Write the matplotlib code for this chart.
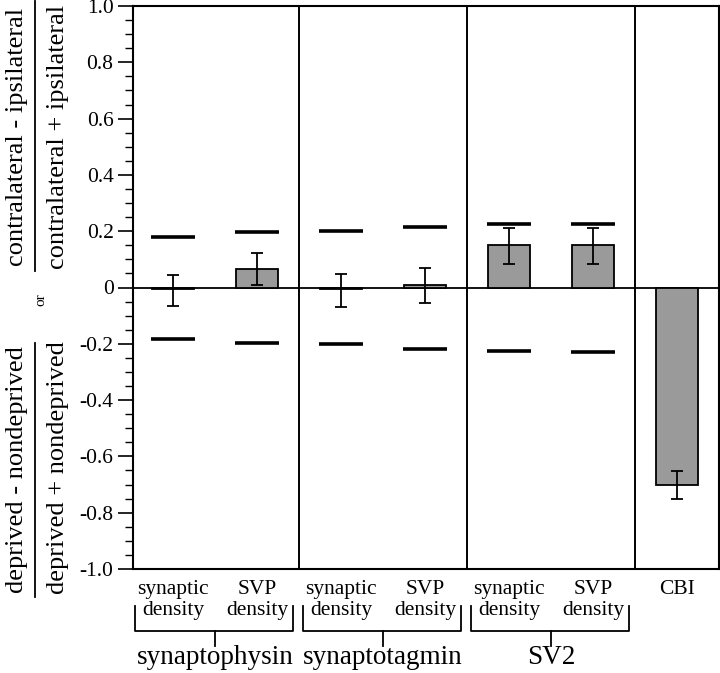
import matplotlib
matplotlib.use("Agg")
import matplotlib.pyplot as plt
from matplotlib.lines import Line2D
from matplotlib.ticker import MultipleLocator
import numpy as np

plt.rcParams['font.family'] = ['Liberation Serif', 'DejaVu Serif']

# ---- data ----
categories = ["synaptic\ndensity", "SVP\ndensity",
              "synaptic\ndensity", "SVP\ndensity",
              "synaptic\ndensity", "SVP\ndensity", "CBI"]
groups = ["synaptophysin", "synaptotagmin", "SV2"]
values = [-0.005, 0.067, -0.005, 0.010, 0.151, 0.151, -0.700]
err_top = [0.043, 0.122, 0.048, 0.071, 0.213, 0.213, -0.651]
err_bot = [-0.064, 0.010, -0.070, -0.054, 0.082, 0.082, -0.752]
upper_bound = [0.181, 0.197, 0.202, 0.216, 0.225, 0.226]
lower_bound = [-0.182, -0.196, -0.202, -0.217, -0.225, -0.228]
yticks = [1.0, 0.8, 0.6, 0.4, 0.2, 0.0, -0.2, -0.4, -0.6, -0.8, -1.0]
yticklabels = ["1.0", "0.8", "0.6", "0.4", "0.2", "0", "-0.2", "-0.4", "-0.6", "-0.8", "-1.0"]

W, H = 720, 673
fig = plt.figure(figsize=(W / 100, H / 100), dpi=100)
ax = fig.add_axes([133 / W, (H - 569) / H, (719 - 133) / W, (569 - 6) / H])

x = np.arange(len(values))
vals = np.array(values)
lo = vals - np.array(err_bot)
hi = np.array(err_top) - vals

ax.bar(x, vals, width=0.49, color='#9a9a9a', edgecolor='black', linewidth=1.3, zorder=2)
ax.errorbar(x, vals, yerr=[lo, hi], fmt='none', ecolor='black', elinewidth=1.3,
            capsize=4, capthick=1.3, zorder=3)
xb = x[:len(upper_bound)]
ax.hlines(upper_bound, xb - 0.26, xb + 0.26, colors='black', linewidth=2.6, zorder=3)
ax.hlines(lower_bound, xb - 0.26, xb + 0.26, colors='black', linewidth=2.6, zorder=3)

ax.axhline(0, color='black', linewidth=1.3, zorder=1)
for sep in [1.5, 3.5, 5.5]:
    ax.axvline(sep, color='black', linewidth=1.4, zorder=1)

ax.set_xlim(-0.476, 6.5)
ax.set_ylim(-1.0, 1.0)
ax.set_yticks(yticks)
ax.set_yticklabels(yticklabels, fontsize=15.5)
ax.yaxis.set_minor_locator(MultipleLocator(0.05))
ax.tick_params(axis='y', which='major', direction='out', length=11, width=1.2, pad=3)
ax.tick_params(axis='y', which='minor', direction='out', length=6, width=1.0)
ax.set_xticks([])
for s in ax.spines.values():
    s.set_linewidth(1.5)

# ---- category labels ----
trans = ax.get_xaxis_transform()
ah = 569 - 6
def fy(p):
    return (569 - p) / ah

for xi, lab in zip(x, categories):
    ax.text(xi, fy(580), lab, transform=trans, ha='center', va='top',
            fontsize=15.5, linespacing=1.15)

# brackets and group labels
for gi, g in enumerate(groups):
    left = 2 * gi - 0.476 + 0.02
    right = 2 * gi + 1.5 - 0.07
    mid = 2 * gi + 0.5
    ax.add_line(Line2D([left, left, right, right], [fy(606), fy(631), fy(631), fy(606)],
                       transform=trans, color='black', linewidth=1.3, clip_on=False))
    ax.add_line(Line2D([mid, mid], [fy(631), fy(646)], transform=trans,
                       color='black', linewidth=1.3, clip_on=False))
    ax.text(mid, fy(657), g, transform=trans, ha='center', va='center', fontsize=19.5)

# ---- y-axis label (fractions) ----
def fx(px):
    return px / W
def fyf(py):
    return (H - py) / H

# upper fraction
fig.text(fx(17), fyf(137), "contralateral - ipsilateral", rotation=90,
         ha='center', va='center', fontsize=19)
fig.add_artist(Line2D([fx(35), fx(35)], [fyf(1), fyf(271)], color='black', linewidth=1.3))
fig.text(fx(58), fyf(137), "contralateral + ipsilateral", rotation=90,
         ha='center', va='center', fontsize=19)
# or
fig.text(fx(41), fyf(300), "or", rotation=90, ha='center', va='center', fontsize=11)
# lower fraction
fig.text(fx(17), fyf(470), "deprived - nondeprived", rotation=90,
         ha='center', va='center', fontsize=19)
fig.add_artist(Line2D([fx(35), fx(35)], [fyf(343), fyf(597)], color='black', linewidth=1.3))
fig.text(fx(58), fyf(468), "deprived + nondeprived", rotation=90,
         ha='center', va='center', fontsize=19)

fig.savefig("out.png", dpi=100)
